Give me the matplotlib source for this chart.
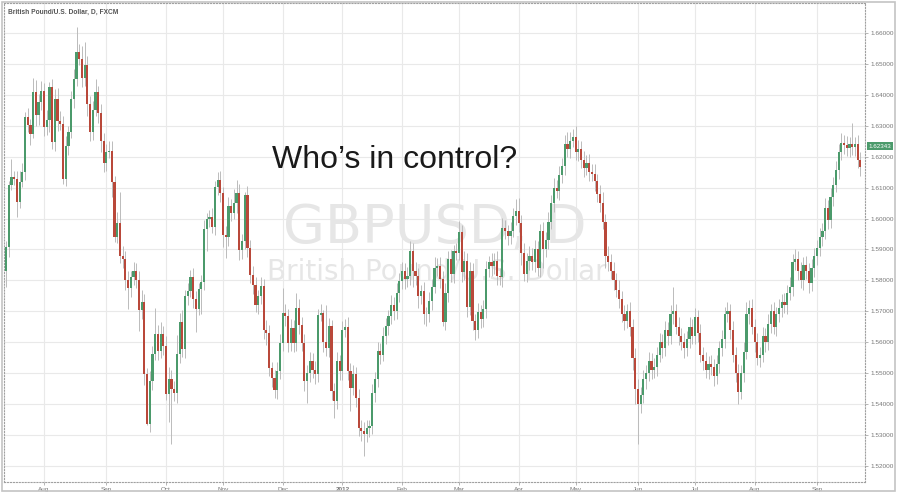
import numpy as np
import pandas as pd
import matplotlib
matplotlib.use("Agg")
import matplotlib.pyplot as plt
from matplotlib.patches import Rectangle

# daily GBPUSD, 12 Jul 2011 -> 25 Sep 2012, prices in pips (x 1e-4)
first_open = 15830

closes = [
	# Jul 2011
	15907, 16107, 16135, 16128, 16053, 16118, 16150, 16328, 16301, 16274, 16409, 16334, 16377, 16414,
	# Aug
	16296, 16320, 16425, 16247, 16388, 16317, 16305, 16129, 16236, 16280, 16388, 16452, 16538, 16517,
	16455, 16495, 16370, 16280, 16350, 16410, 16340, 16250, 16180,
	# Sep
	16215, 16220, 16117, 15940, 15985, 15880, 15870, 15800, 15775, 15810, 15830, 15800, 15705, 15730,
	15497, 15335, 15476, 15562, 15627, 15573, 15627, 15589,
	# Oct
	15432, 15480, 15450, 15435, 15562, 15665, 15578, 15750, 15767, 15810, 15740, 15707, 15772, 15794,
	15966, 15999, 16004, 15972, 16101, 16125, 16082,
	# Nov
	15947, 15940, 16039, 16017, 16049, 16082, 15899, 15926, 16076, 15904, 15818, 15786, 15722, 15748,
	15781, 15641, 15630, 15517, 15485, 15447, 15506, 15598,
	# Dec
	15695, 15684, 15598, 15646, 15598, 15711, 15657, 15598, 15474, 15501, 15539, 15510, 15496, 15689,
	15695, 15600, 15582, 15652, 15442, 15410, 15539, 15507,
	# Jan 2012
	15641, 15650, 15507, 15453, 15496, 15420, 15323, 15313, 15302, 15323, 15329, 15436, 15480, 15571,
	15560, 15620, 15652, 15684, 15722, 15701, 15760, 15798,
	# Feb
	15830, 15803, 15814, 15895, 15830, 15814, 15749, 15765, 15690, 15690, 15733, 15780, 15840, 15847,
	15804, 15665, 15760, 15869, 15820, 15896, 15890,
	# Mar
	15955, 15826, 15864, 15713, 15831, 15670, 15638, 15697, 15675, 15708, 15837, 15858, 15845, 15864,
	15815, 15810, 15971, 15960, 15944, 15960, 16009, 16025,
	# Apr
	15987, 15890, 15820, 15864, 15880, 15858, 15901, 15840, 15960, 15900, 15930, 15990, 16050, 16100,
	16090, 16140, 16170, 16240, 16225, 16250, 16265,
	# May
	16215, 16225, 16190, 16165, 16180, 16150, 16145, 16120, 16080, 16050, 15990, 15880, 15860, 15830,
	15800, 15770, 15740, 15690, 15670, 15700, 15650, 15550, 15450,
	# Jun
	15400, 15430, 15480, 15500, 15540, 15510, 15520, 15560, 15600, 15580, 15640, 15620, 15690, 15700,
	15650, 15620, 15600, 15580, 15610, 15650, 15620,
	# Jul
	15680, 15630, 15560, 15540, 15510, 15530, 15520, 15490, 15530, 15580, 15610, 15690, 15700, 15640,
	15560, 15500, 15440, 15500, 15570, 15690, 15710, 15650,
	# Aug
	15600, 15550, 15560, 15620, 15600, 15660, 15700, 15650, 15690, 15710, 15730, 15720, 15760, 15780,
	15860, 15870, 15830, 15800, 15850, 15830, 15790, 15840, 15880,
	# Sep
	15905, 15940, 15960, 16035, 15995, 16070, 16110, 16157, 16215, 16245, 16238, 16228, 16240, 16232,
	16240, 16190, 16167,
]

# wick length above the body top (pips)
upper_wick = [
	20, 15, 58, 20, 25, 35, 30, 15, 30, 20, 45, 40, 25, 30,
	25, 30, 16, 25, 30, 35, 30, 25, 30, 20, 25, 30, 81, 25, 40, 75, 30, 25, 30, 42, 20, 30, 25,
	25, 32, 30, 20, 35, 100, 30, 25, 30, 20, 30, 25, 30, 40, 25, 20, 30, 25, 85, 30, 40, 25,
	30, 40, 30, 25, 60, 30, 40, 20, 25, 25, 30, 25, 20, 25, 30, 20, 25, 30, 20, 27, 30,
	20, 30, 30, 25, 45, 43, 30, 25, 11, 30, 25, 30, 25, 20, 30, 25, 30, 25, 20, 25, 30, 30,
	80, 30, 25, 30, 25, 48, 30, 25, 30, 25, 30, 25, 30, 20, 30, 10, 120, 25, 20, 25, 30, 20,
	27, 25, 30, 25, 30, 25, 30, 25, 30, 25, 20, 30, 25, 30, 25, 30, 25, 20, 30, 25, 30, 25,
	30, 25, 30, 32, 25, 30, 25, 20, 30, 25, 30, 25, 34, 25, 30, 25, 30, 25, 30, 20, 25,
	38, 25, 30, 25, 30, 25, 20, 30, 25, 30, 25, 20, 30, 25, 30, 25, 30, 25, 20, 30, 25, 37,
	40, 25, 30, 25, 30, 25, 30, 25, 22, 30, 25, 30, 25, 30, 25, 30, 25, 30, 40, 30, 25,
	35, 30, 25, 30, 25, 30, 25, 30, 25, 30, 35, 25, 30, 25, 30, 25, 30, 25, 30, 25, 30, 25, 30,
	30, 25, 30, 25, 30, 25, 30, 25, 30, 25, 30, 25, 30, 80, 25, 30, 25, 30, 25, 30, 25,
	30, 25, 30, 25, 30, 25, 30, 25, 30, 25, 30, 25, 30, 25, 30, 25, 30, 25, 30, 40, 25, 30,
	25, 30, 25, 30, 25, 30, 25, 30, 25, 30, 25, 30, 25, 30, 25, 30, 25, 30, 25, 30, 25, 30, 25,
	25, 30, 25, 30, 25, 30, 25, 30, 25, 30, 25, 30, 25, 69, 25, 30, 25,
]

# wick length below the body bottom (pips)
lower_wick = [
	50, 30, 15, 20, 49, 20, 15, 25, 20, 35, 15, 35, 30, 25,
	30, 25, 40, 21, 30, 35, 20, 17, 25, 30, 20, 30, 25, 20, 30, 25, 40, 30, 25, 20, 30, 35, 30,
	25, 20, 48, 17, 20, 25, 30, 30, 68, 30, 25, 25, 68, 30, 35, 3, 25, 30, 20, 30, 25, 30,
	20, 90, 180, 25, 30, 30, 25, 30, 30, 20, 30, 75, 20, 80, 25, 70, 25, 20, 25, 25, 30,
	40, 68, 30, 25, 20, 30, 32, 30, 25, 30, 25, 30, 25, 30, 25, 30, 40, 25, 30, 27, 30, 25,
	25, 30, 30, 25, 30, 25, 30, 25, 32, 70, 30, 25, 30, 25, 20, 30, 25, 30, 30, 55, 25, 30,
	30, 25, 30, 76, 25, 30, 25, 33, 70, 25, 30, 25, 30, 25, 30, 20, 25, 30, 25, 30, 25, 30,
	25, 30, 25, 30, 50, 30, 38, 25, 30, 38, 25, 30, 20, 25, 30, 11, 25, 30, 25, 30, 25,
	25, 30, 25, 30, 25, 30, 32, 25, 30, 25, 30, 25, 30, 25, 30, 25, 30, 25, 30, 25, 20, 30,
	30, 40, 23, 25, 30, 25, 30, 25, 30, 60, 25, 30, 25, 30, 25, 30, 25, 30, 25, 30, 20,
	25, 30, 25, 30, 25, 30, 25, 30, 25, 30, 25, 40, 30, 25, 30, 25, 30, 25, 30, 25, 30, 40, 50,
	130, 30, 25, 30, 25, 30, 25, 30, 25, 30, 25, 30, 25, 30, 25, 30, 25, 30, 25, 30, 25,
	25, 30, 25, 30, 25, 30, 25, 30, 25, 30, 25, 30, 25, 30, 25, 30, 40, 25, 30, 25, 30, 25,
	30, 25, 30, 25, 30, 25, 30, 25, 30, 25, 30, 25, 30, 25, 30, 25, 30, 25, 30, 25, 30, 25, 30,
	30, 25, 30, 25, 30, 25, 30, 25, 30, 25, 30, 25, 30, 25, 30, 25, 30,
]

last_price_label = "1.62343"
last_price = 1.62343

dates = pd.bdate_range("2011-07-12", "2012-09-25")
n = len(dates)
assert len(closes) == n and len(upper_wick) == n and len(lower_wick) == n

c = np.array(closes) / 1e4
o = np.r_[first_open, closes[:-1]] / 1e4
top = np.maximum(o, c)
bot = np.minimum(o, c)
hi = top + np.array(upper_wick) / 1e4
lo = bot - np.array(lower_wick) / 1e4
x = np.arange(n)

green = "#4b9a6b"
red = "#b9483a"
cols = np.where(c >= o, green, red)

W, H = 898, 494
fig = plt.figure(figsize=(W / 100, H / 100), dpi=100)
ax = fig.add_axes([4 / W, 12 / H, 861 / W, 479 / H])

ax.vlines(x, lo, hi, color="#bbbbbb", lw=0.7, zorder=2)
ax.bar(x, np.maximum(top - bot, 0.00015), bottom=bot, width=0.8, color=cols, lw=0, zorder=3)

ax.set_xlim(-0.75, 316.7)
ax.set_ylim(1.5148, 1.6697)

# month ticks on first trading day of each month
mstart = [i for i in range(1, n) if dates[i].month != dates[i - 1].month]
mlabels = ["2012" if dates[i].month == 1 else dates[i].strftime("%b") for i in mstart]
ax.set_xticks(mstart)
ax.set_xticklabels(mlabels)
for t in ax.get_xticklabels():
	if t.get_text() == "2012":
		t.set_fontweight("bold")

yt = np.arange(1.52, 1.6601, 0.01)
ax.set_yticks(yt)
ax.set_yticklabels(["%.5f" % v for v in yt])
ax.yaxis.tick_right()

ax.tick_params(axis="both", labelsize=4.6, labelcolor="#777777", color="#aaaaaa", length=2, width=0.6)
ax.tick_params(axis="x", pad=1.5)
ax.tick_params(axis="y", pad=2)
for t in ax.get_xticklabels() + ax.get_yticklabels():
	t.set_family("Liberation Sans")

ax.grid(True, color="#e9e9e9", lw=0.8, zorder=0)
ax.set_axisbelow(True)
for s in ax.spines.values():
	s.set_linestyle(":")
	s.set_color("#a0a0a0")
	s.set_linewidth(0.8)

# outer frame
fig.patches.append(Rectangle((2 / W, 3 / H), 893 / W, 489 / H, transform=fig.transFigure,
	fill=False, ec="#c4c4c4", lw=1.2))

# watermark behind the candles
ax.text(283 / W, 1 - 243 / H, "GBPUSD, D", transform=fig.transFigure, fontsize=39,
	color="#e6e6e6", ha="left", va="baseline", zorder=1, family="DejaVu Sans")
ax.text(267 / W, 1 - 280 / H, "British Pound/U.S. Dollar", transform=fig.transFigure, fontsize=20,
	color="#e6e6e6", ha="left", va="baseline", zorder=1, family="DejaVu Sans")

fig.text(8 / W, 1 - 12 / H, "British Pound/U.S. Dollar, D, FXCM", fontsize=4.8, fontweight="bold",
	color="#555555", ha="left", va="center", family="Liberation Sans")

fig.text(272 / W, 1 - 168 / H, "Who\u2019s in control?", fontsize=23, color="#1a1a1a",
	ha="left", va="baseline", family="Liberation Sans")

ax.annotate(last_price_label, xy=(1, last_price), xycoords=("axes fraction", "data"),
	xytext=(2.5, 0), textcoords="offset points", ha="left", va="center", fontsize=4.5,
	color="white", family="Liberation Sans",
	bbox=dict(boxstyle="square,pad=0.3", fc=green, ec="none"))

fig.savefig("out.png", dpi=100)
